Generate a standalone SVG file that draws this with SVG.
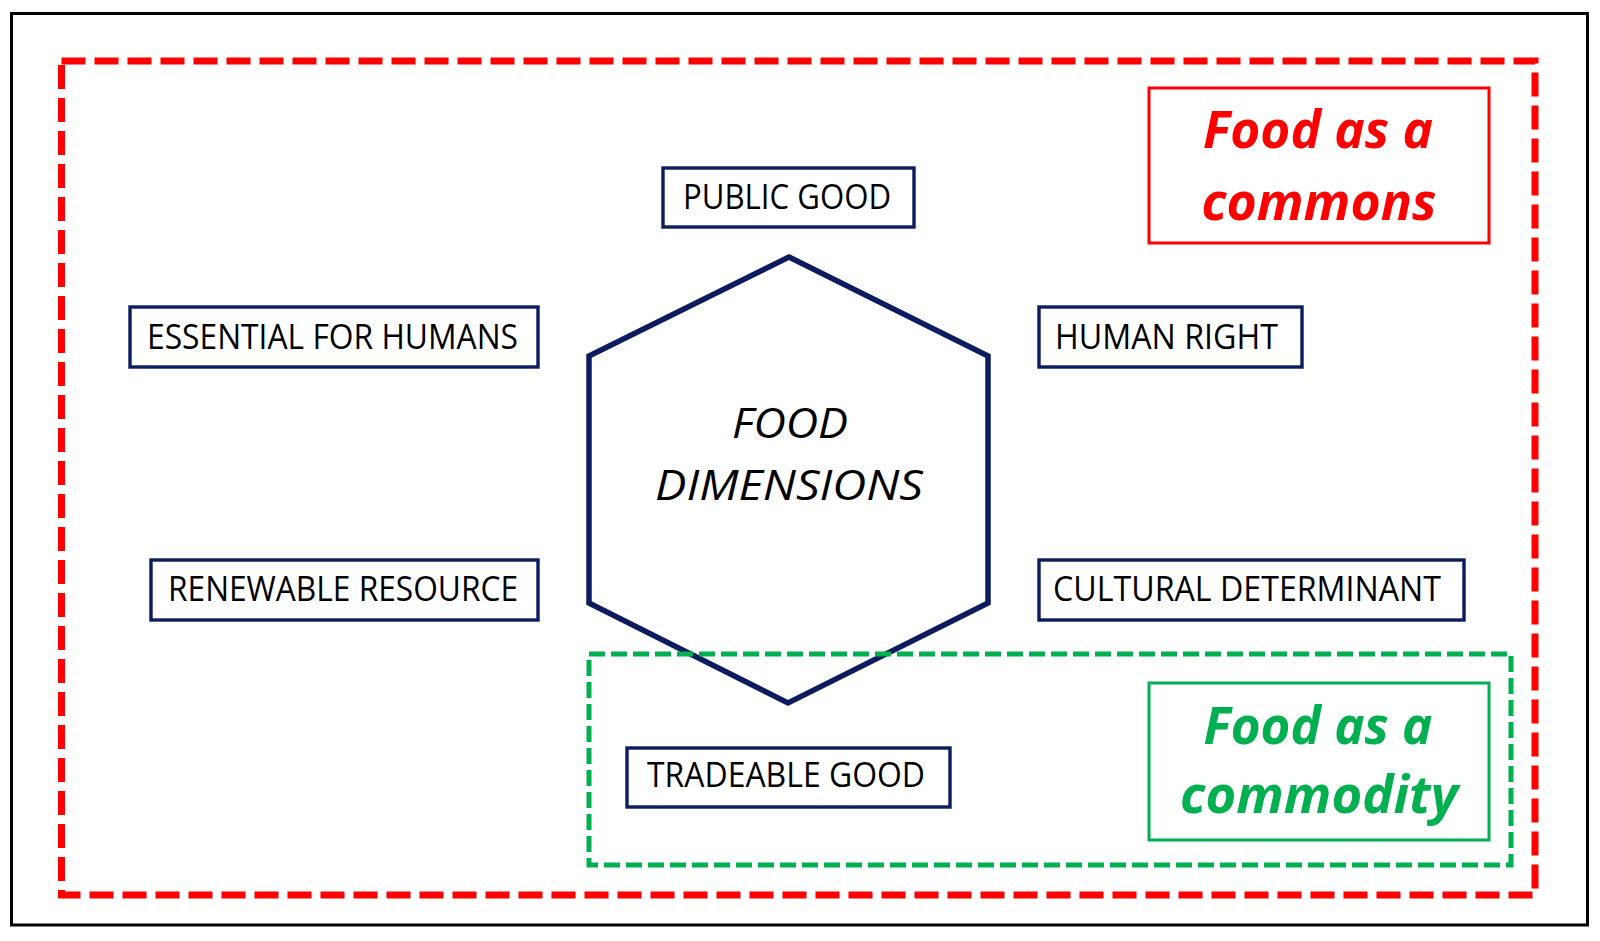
<svg xmlns="http://www.w3.org/2000/svg" width="1600" height="941" viewBox="0 0 1600 941">
<style>
.frame{fill:none;stroke:#000;stroke-width:3}
.commons{fill:none;stroke:#ff0000;stroke-width:7;stroke-dasharray:24 9}
.commodity{fill:none;stroke:#00b050;stroke-width:5;stroke-dasharray:16 6}
.box{fill:#fff;stroke:#0c1c5e;stroke-width:3.4}
.hex{fill:none;stroke:#0c1c5e;stroke-width:5.5;stroke-linejoin:miter}
.lbl{font-family:"Open Sans","Liberation Sans",sans-serif;font-size:34px;fill:#000}
.hlbl{font-family:"Open Sans","Liberation Sans",sans-serif;font-size:42px;font-style:italic;fill:#000}
.title{font-family:"Open Sans","Liberation Sans",sans-serif;font-size:52px;font-weight:bold;font-style:italic}
.redbox{fill:#fff;stroke:#ff0000;stroke-width:3}
.greenbox{fill:#fff;stroke:#00b050;stroke-width:3}
</style>
<rect width="1600" height="941" fill="#fff"/>
<rect class="frame" x="11.5" y="13.5" width="1576" height="911.5"/>
<g id="food-as-commons-region">
<rect class="commons" x="61.5" y="61" width="1473.5" height="834"/>
</g>
<g id="food-dimensions">
<polygon class="hex" points="789,257 988,356 988,603 788,703 589,603 589,356"/>
<text class="hlbl" x="790" y="438" text-anchor="middle" textLength="116" lengthAdjust="spacingAndGlyphs">FOOD</text>
<text class="hlbl" x="789" y="500" text-anchor="middle" textLength="268" lengthAdjust="spacingAndGlyphs">DIMENSIONS</text>
</g>
<g id="food-as-commodity-region">
<rect class="commodity" x="589" y="654" width="922" height="211"/>
</g>
<g id="public-good">
<rect class="box" x="663" y="168" width="251" height="59"/>
<text class="lbl" x="683" y="209" textLength="208" lengthAdjust="spacingAndGlyphs">PUBLIC GOOD</text>
</g>
<g id="essential-for-humans">
<rect class="box" x="130" y="307" width="408" height="60"/>
<text class="lbl" x="147" y="349" textLength="371" lengthAdjust="spacingAndGlyphs">ESSENTIAL FOR HUMANS</text>
</g>
<g id="human-right">
<rect class="box" x="1039" y="307" width="263" height="60"/>
<text class="lbl" x="1055" y="349" textLength="223" lengthAdjust="spacingAndGlyphs">HUMAN RIGHT</text>
</g>
<g id="renewable-resource">
<rect class="box" x="151" y="560" width="387" height="60"/>
<text class="lbl" x="168" y="601" textLength="350" lengthAdjust="spacingAndGlyphs">RENEWABLE RESOURCE</text>
</g>
<g id="cultural-determinant">
<rect class="box" x="1039" y="560" width="425" height="60"/>
<text class="lbl" x="1053" y="601" textLength="388" lengthAdjust="spacingAndGlyphs">CULTURAL DETERMINANT</text>
</g>
<g id="tradeable-good">
<rect class="box" x="627" y="748" width="323" height="59"/>
<text class="lbl" x="647" y="787" textLength="278" lengthAdjust="spacingAndGlyphs">TRADEABLE GOOD</text>
</g>
<g id="label-food-as-a-commons">
<rect class="redbox" x="1149" y="88" width="340" height="155"/>
<text class="title" fill="#ff0000" x="1318" y="148" text-anchor="middle" textLength="230" lengthAdjust="spacingAndGlyphs">Food as a</text>
<text class="title" fill="#ff0000" x="1319" y="220" text-anchor="middle" textLength="235" lengthAdjust="spacingAndGlyphs">commons</text>
</g>
<g id="label-food-as-a-commodity">
<rect class="greenbox" x="1149" y="683" width="340" height="157"/>
<text class="title" fill="#00b050" x="1318" y="744" text-anchor="middle" textLength="229" lengthAdjust="spacingAndGlyphs">Food as a</text>
<text class="title" fill="#00b050" x="1319" y="813" text-anchor="middle" textLength="278" lengthAdjust="spacingAndGlyphs">commodity</text>
</g>
<g id="connectors"/>
</svg>
